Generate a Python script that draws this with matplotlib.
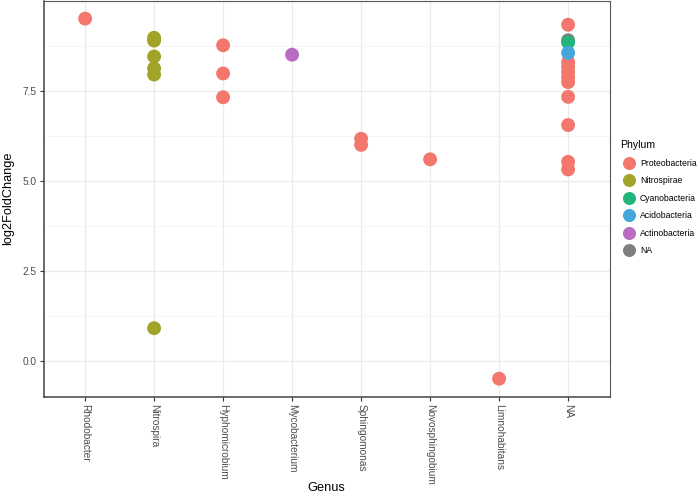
import matplotlib
matplotlib.use("Agg")
import matplotlib.pyplot as plt
from matplotlib.lines import Line2D
from matplotlib.ticker import MultipleLocator

plt.rcParams['font.family'] = ['Liberation Sans', 'DejaVu Sans']

genera = ["Rhodobacter", "Nitrospira", "Hyphomicrobium", "Mycobacterium",
          "Sphingomonas", "Novosphingobium", "Limnohabitans", "NA"]

phyla = ["Proteobacteria", "Nitrospirae", "Cyanobacteria", "Acidobacteria",
         "Actinobacteria", "NA"]
colors = {"Proteobacteria": "#F3776C", "Nitrospirae": "#A2A329",
          "Cyanobacteria": "#22B47A", "Acidobacteria": "#45A6DC",
          "Actinobacteria": "#B86CC2", "NA": "#7F7F7F"}

# points per phylum: genus and log2FoldChange
na_genus = ["NA"]
na_vals = [8.90]

proteo_genus = ["Rhodobacter",
                "Hyphomicrobium", "Hyphomicrobium", "Hyphomicrobium",
                "Sphingomonas", "Sphingomonas",
                "Novosphingobium",
                "Limnohabitans",
                "NA", "NA", "NA", "NA", "NA", "NA", "NA", "NA", "NA", "NA"]
proteo_vals = [9.50,
               8.76, 7.98, 7.32,
               6.17, 6.00,
               5.60,
               -0.48,
               9.33, 8.30, 8.16, 8.02, 7.88, 7.74, 7.33, 6.55, 5.53, 5.32]

nitro_genus = ["Nitrospira"] * 6
nitro_vals = [8.97, 8.89, 8.45, 8.12, 7.95, 0.92]

cyano_genus = ["NA"]
cyano_vals = [8.84]

acido_genus = ["NA"]
acido_vals = [8.55]

actino_genus = ["Mycobacterium"]
actino_vals = [8.50]

series = [("NA", na_genus, na_vals),
          ("Proteobacteria", proteo_genus, proteo_vals),
          ("Nitrospirae", nitro_genus, nitro_vals),
          ("Cyanobacteria", cyano_genus, cyano_vals),
          ("Acidobacteria", acido_genus, acido_vals),
          ("Actinobacteria", actino_genus, actino_vals)]

W, H = 697, 494
fig = plt.figure(figsize=(W / 100, H / 100), dpi=100)
x0, x1, y0, y1 = 43.7, 609.5, 396.7, 0.6
ax = fig.add_axes([x0 / W, 1 - y0 / H, (x1 - x0) / W, (y0 - y1) / H])

xpos = {g: i for i, g in enumerate(genera)}
for name, gs, vs in series:
    ax.scatter([xpos[g] for g in gs], vs, s=100, color=colors[name],
               edgecolors='none', zorder=3)

ax.set_xlim(-0.6, len(genera) - 1 + 0.6)
ax.set_ylim(-0.979, 9.999)
ax.set_xticks(range(len(genera)))
ax.set_xticklabels(genera, rotation=270, fontsize=7.3, color='#4D4D4D')
ax.yaxis.set_minor_locator(MultipleLocator(1.25))
ax.set_yticks([0.0, 2.5, 5.0, 7.5])
ax.set_yticklabels(["0.0", "2.5", "5.0", "7.5"], fontsize=7.3, color='#4D4D4D')
ax.tick_params(axis='both', which='major', length=3, width=0.8, color='#333333', pad=2)
ax.tick_params(axis='y', which='minor', length=0)

ax.grid(True, which='major', color='#EBEBEB', linewidth=0.9, zorder=0)
ax.grid(True, which='minor', axis='y', color='#F2F2F2', linewidth=0.5, zorder=0)
ax.set_axisbelow(True)

for side in ['top', 'right']:
    ax.spines[side].set_color('#555555')
    ax.spines[side].set_linewidth(0.8)
for side in ['left', 'bottom']:
    ax.spines[side].set_color('#444444')
    ax.spines[side].set_linewidth(1.1)

ax.set_xlabel("Genus", fontsize=9.2)
ax.xaxis.set_label_coords(0.5, -(481.5 - y0) / (y0 - y1))
ax.set_ylabel("log2FoldChange", fontsize=9.2)
ax.yaxis.set_label_coords(-(x0 - 14.5) / (x1 - x0), 0.5)

handles = [Line2D([0], [0], marker='o', linestyle='none', markersize=9.4,
                  markerfacecolor=colors[p], markeredgecolor='none', label=p)
           for p in phyla]
leg = fig.legend(handles=handles, title="Phylum", loc='upper left',
                 bbox_to_anchor=(620 / W, 1 - 140.5 / H), frameon=False, fontsize=6.2,
                 title_fontsize=7.6, handletextpad=0.3, labelspacing=0.98,
                 borderaxespad=0, borderpad=0, handlelength=2.0)
leg._legend_box.align = "left"

fig.savefig("out.png", dpi=100)
